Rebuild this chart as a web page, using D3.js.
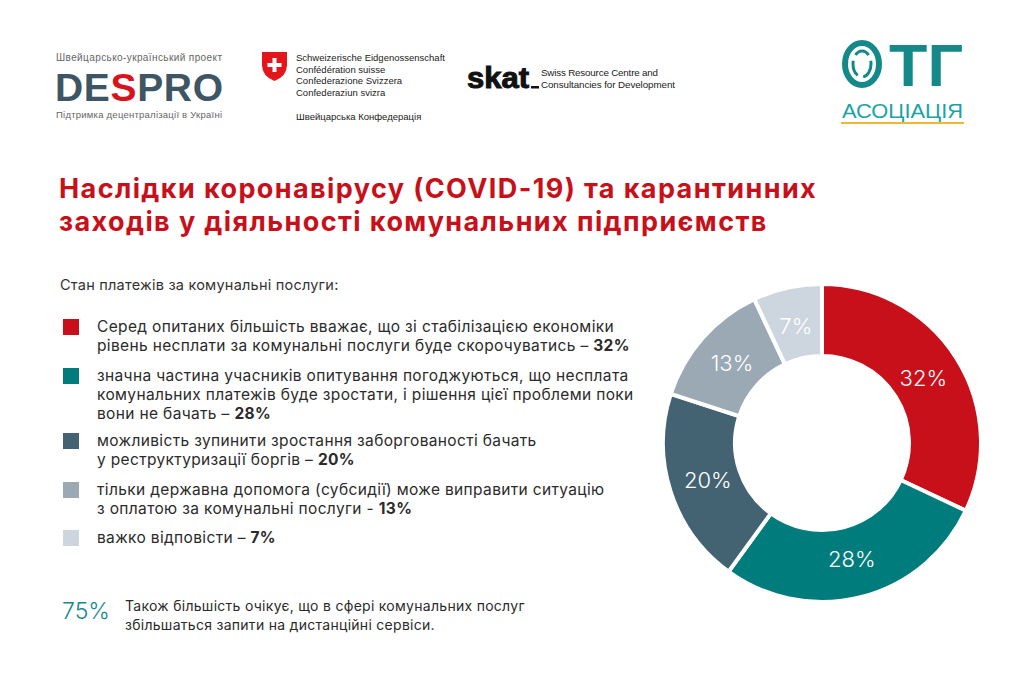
<!DOCTYPE html>
<html lang="uk">
<head>
    <meta charset="UTF-8">
    <title>Наслідки коронавірусу (COVID-19)</title>
    <script src="https://cdn.jsdelivr.net/npm/d3@7"></script>
    <style>
        body { margin: 0; background: #fff; }
        svg { display: block; font-family: Inter, "Noto Sans", sans-serif; }
        .logo { font-family: "Liberation Sans", Arial, sans-serif; }
        .legend-text { font-size: 15.5px; fill: #2b2b2b; letter-spacing: 0.35px; }
        .slice-label { font-size: 22px; fill: #fff; font-weight: 300; }
    </style>
</head>
<body>
<svg width="1024" height="694"></svg>
<script>
    // chart data
    const values = [32, 28, 20, 13, 7];
    const colors = ["#c8101a", "#017c7c", "#436373", "#9aa9b4", "#cdd6df"];
    const legendLines = [
        ["Серед опитаних більшість вважає, що зі стабілізацією економіки",
         "рівень несплати за комунальні послуги буде скорочуватись – "],
        ["значна частина учасників опитування погоджуються, що несплата",
         "комунальних платежів буде зростати, і рішення цієї проблеми поки",
         "вони не бачать – "],
        ["можливість зупинити зростання заборгованості бачать",
         "у реструктуризації боргів – "],
        ["тільки державна допомога (субсидії) може виправити ситуацію",
         "з оплатою за комунальні послуги - "],
        ["важко відповісти – "]
    ];
    const titleLines = [
        "Наслідки коронавірусу (COVID-19) та карантинних",
        "заходів у діяльності комунальних підприємств"
    ];
    const subtitle = "Стан платежів за комунальні послуги:";
    const footValue = "75%";
    const footLines = [
        "Також більшість очікує, що в сфері комунальних послуг",
        "збільшаться запити на дистанційні сервіси."
    ];

    const svg = d3.select("svg");

    // ---------- header logos ----------
    const despro = svg.append("g").attr("class", "logo");
    despro.append("text").attr("x", 56).attr("y", 61)
        .attr("font-size", 10).attr("fill", "#666")
        .attr("textLength", 166).text("Швейцарсько-український проект");
    const dp = despro.append("text").attr("x", 55).attr("y", 101)
        .attr("font-size", 39).attr("font-weight", 700).attr("fill", "#3e5564")
        .attr("textLength", 168).attr("lengthAdjust", "spacing");
    dp.append("tspan").text("DE");
    dp.append("tspan").attr("fill", "#d7141e").text("S");
    dp.append("tspan").text("PRO");
    despro.append("text").attr("x", 56).attr("y", 118)
        .attr("font-size", 9.5).attr("fill", "#666")
        .attr("textLength", 166).text("Підтримка децентралізації в Україні");

    // swiss shield
    const sw = svg.append("g").attr("transform", "translate(262,52)");
    sw.append("path").attr("d", "M0,0 H25 V13 Q25,24 12.5,29 Q0,24 0,13 Z").attr("fill", "#e2161c");
    sw.append("rect").attr("x", 10.5).attr("y", 6).attr("width", 4).attr("height", 14).attr("fill", "#fff");
    sw.append("rect").attr("x", 5.5).attr("y", 11).attr("width", 14).attr("height", 4).attr("fill", "#fff");
    const swiss = svg.append("g").attr("class", "logo");
    ["Schweizerische Eidgenossenschaft", "Confédération suisse",
     "Confederazione Svizzera", "Confederaziun svizra"].forEach((t, i) => {
        swiss.append("text").attr("x", 296).attr("y", 61 + i * 11.5)
            .attr("font-size", 9.5).attr("fill", "#222").text(t);
    });
    swiss.append("text").attr("x", 296).attr("y", 120)
        .attr("font-size", 9.5).attr("fill", "#222").text("Швейцарська Конфедерація");

    // skat
    const skat = svg.append("g").attr("class", "logo");
    skat.append("text").attr("x", 467).attr("y", 88)
        .attr("font-size", 29).attr("font-weight", 700).attr("fill", "#111")
        .attr("stroke", "#111").attr("stroke-width", 1)
        .attr("textLength", 62).attr("lengthAdjust", "spacingAndGlyphs")
        .text("skat");
    skat.append("rect").attr("x", 531).attr("y", 86).attr("width", 8).attr("height", 2.5).attr("fill", "#111");
    skat.append("text").attr("x", 541).attr("y", 76)
        .attr("font-size", 9.8).attr("fill", "#222")
        .attr("textLength", 117).text("Swiss Resource Centre and");
    skat.append("text").attr("x", 541).attr("y", 88)
        .attr("font-size", 9.8).attr("fill", "#222")
        .attr("textLength", 134).text("Consultancies for Development");

    // OTG association
    const otg = svg.append("g").attr("class", "logo");
    otg.append("ellipse").attr("cx", 862).attr("cy", 64).attr("rx", 17).attr("ry", 21)
        .attr("fill", "none").attr("stroke", "#15898a").attr("stroke-width", 6);
    otg.append("ellipse").attr("cx", 862).attr("cy", 64).attr("rx", 9).attr("ry", 13)
        .attr("fill", "none").attr("stroke", "#15898a").attr("stroke-width", 3)
        .attr("stroke-dasharray", "16 6");
    otg.append("text").attr("x", 889).attr("y", 86)
        .attr("font-size", 60).attr("font-weight", 700).attr("fill", "#15898a")
        .attr("textLength", 74).attr("lengthAdjust", "spacingAndGlyphs")
        .text("ТГ");
    otg.append("text").attr("x", 842).attr("y", 117.5)
        .attr("font-size", 21).attr("fill", "#1aa3a6")
        .attr("textLength", 121).attr("lengthAdjust", "spacingAndGlyphs")
        .text("АСОЦІАЦІЯ");
    otg.append("line").attr("x1", 841).attr("x2", 964).attr("y1", 123).attr("y2", 123)
        .attr("stroke", "#f2b633").attr("stroke-width", 2);

    // ---------- title ----------
    svg.append("g").selectAll("text").data(titleLines).join("text")
        .attr("x", 59).attr("y", (d, i) => 198 + i * 33)
        .attr("font-size", 27).attr("font-weight", 700).attr("fill", "#c8101a")
        .attr("letter-spacing", 1.4)
        .text(d => d);

    svg.append("text").attr("x", 60).attr("y", 290)
        .attr("font-size", 14.5).attr("fill", "#333").attr("letter-spacing", 0.22)
        .text(subtitle);

    // ---------- legend ----------
    const itemTops = [319, 368, 433, 482, 530];
    const lineH = 19;
    const legend = svg.append("g");
    const items = legend.selectAll("g").data(values).join("g")
        .attr("transform", (d, i) => `translate(63,${itemTops[i]})`);
    items.append("rect").attr("width", 16).attr("height", 16)
        .attr("fill", (d, i) => colors[i]);
    items.each(function (v, i) {
        const g = d3.select(this);
        const lines = legendLines[i];
        lines.forEach((ln, j) => {
            const t = g.append("text").attr("class", "legend-text")
                .attr("x", 34).attr("y", 13 + j * lineH);
            t.append("tspan").text(ln);
            if (j === lines.length - 1) {
                t.append("tspan").attr("font-weight", 700).text(v + "%");
            }
        });
    });

    // ---------- footer note ----------
    svg.append("text").attr("x", 62).attr("y", 619)
        .attr("font-size", 23).attr("font-weight", 300).attr("fill", "#17898b")
        .text(footValue);
    svg.append("g").selectAll("text").data(footLines).join("text")
        .attr("x", 125).attr("y", (d, i) => 611 + i * 19)
        .attr("font-size", 14).attr("fill", "#2b2b2b").attr("letter-spacing", 0.28)
        .text(d => d);

    // ---------- donut ----------
    const cx = 822, cy = 443;
    const pie = d3.pie().sort(null).value(d => d);
    const arc = d3.arc().innerRadius(87).outerRadius(159);
    const labelArc = d3.arc().innerRadius(120).outerRadius(120);
    const donut = svg.append("g").attr("transform", `translate(${cx},${cy})`);
    const arcs = pie(values);
    donut.selectAll("path").data(arcs).join("path")
        .attr("d", arc)
        .attr("fill", (d, i) => colors[i])
        .attr("stroke", "#fff").attr("stroke-width", 4).attr("stroke-linejoin", "miter");
    donut.selectAll("text").data(arcs).join("text")
        .attr("class", "slice-label")
        .attr("transform", d => `translate(${labelArc.centroid(d)})`)
        .attr("text-anchor", "middle").attr("dy", "0.35em")
        .text(d => d.data + "%");
</script>
</body>
</html>
